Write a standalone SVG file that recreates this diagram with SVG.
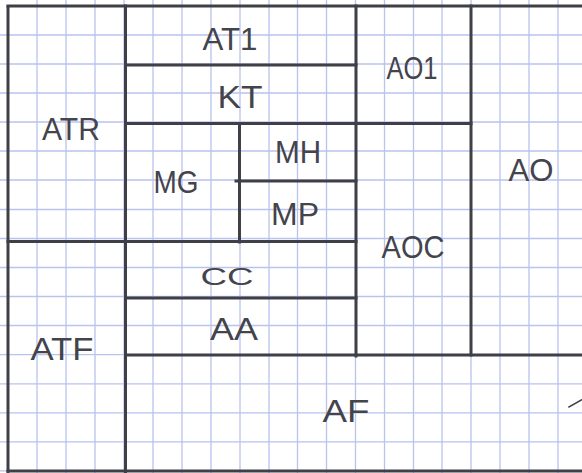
<svg xmlns="http://www.w3.org/2000/svg" width="582" height="473" viewBox="0 0 582 473">
<style>
.grid{stroke:#bac2ee;stroke-width:1.3;fill:none}
.wall{stroke:#3f3f48;stroke-width:3;fill:none;stroke-linecap:square}
.lbl{font-family:"Liberation Sans","DejaVu Sans",sans-serif;font-size:31px;fill:#44444c;text-anchor:middle}
</style>
<rect width="582" height="473" fill="#ffffff"/>
<g id="grid" class="grid">
<path d="M37 0V473M66 0V473M95 0V473M124 0V473M153 0V473M182 0V473M211 0V473M240 0V473M269 0V473M297.5 0V473M326.5 0V473M355.5 0V473M384.5 0V473M413.5 0V473M442 0V473M471 0V473M500 0V473M529 0V473M558 0V473"/>
<path d="M0 35H582M0 64H582M0 93H582M0 122H582M0 151H582M0 180H582M0 209.5H582M0 238.5H582M0 267.5H582M0 296.5H582M0 325.5H582M0 354.7H582M0 383.8H582M0 412.8H582M0 441.9H582M0 470.9H582"/>
</g>
<g id="walls" class="wall">
<path d="M8 6H582"/>
<path d="M8 7V473"/>
<path d="M125.5 6V473"/>
<path d="M356 6V356"/>
<path d="M471 6V355"/>
<path d="M128 65H356"/>
<path d="M125.5 123.5H471"/>
<path d="M239.5 123.5V242"/>
<path d="M236 181H356"/>
<path d="M8 241.5H356"/>
<path d="M125.5 298H356"/>
<path d="M125.5 355H582"/>
<path d="M8 471H582"/>
<path d="M569 407L583 399" stroke-width="1.5"/>
</g>
<g id="ATR"><text class="lbl" x="71" y="140" textLength="58" lengthAdjust="spacingAndGlyphs">ATR</text></g>
<g id="AT1"><text class="lbl" x="230" y="50" textLength="55" lengthAdjust="spacingAndGlyphs">AT1</text></g>
<g id="KT"><text class="lbl" x="240" y="108" textLength="45" lengthAdjust="spacingAndGlyphs">KT</text></g>
<g id="MG"><text class="lbl" x="176" y="193" textLength="45" lengthAdjust="spacingAndGlyphs">MG</text></g>
<g id="MH"><text class="lbl" x="298" y="163" textLength="46" lengthAdjust="spacingAndGlyphs">MH</text></g>
<g id="MP"><text class="lbl" x="295" y="225" textLength="48" lengthAdjust="spacingAndGlyphs">MP</text></g>
<g id="AO1"><text class="lbl" x="412" y="79" textLength="51" lengthAdjust="spacingAndGlyphs">AO1</text></g>
<g id="AO"><text class="lbl" x="531" y="181" textLength="45" lengthAdjust="spacingAndGlyphs">AO</text></g>
<g id="AOC"><text class="lbl" x="413" y="258" textLength="63" lengthAdjust="spacingAndGlyphs">AOC</text></g>
<g id="CC"><text class="lbl" x="227" y="285" textLength="53" lengthAdjust="spacingAndGlyphs" style="font-size:24px">CC</text></g>
<g id="AA"><text class="lbl" x="234" y="340" textLength="48" lengthAdjust="spacingAndGlyphs">AA</text></g>
<g id="ATF"><text class="lbl" x="62" y="360" textLength="63" lengthAdjust="spacingAndGlyphs">ATF</text></g>
<g id="AF"><text class="lbl" x="346" y="422" textLength="47" lengthAdjust="spacingAndGlyphs">AF</text></g>
</svg>
